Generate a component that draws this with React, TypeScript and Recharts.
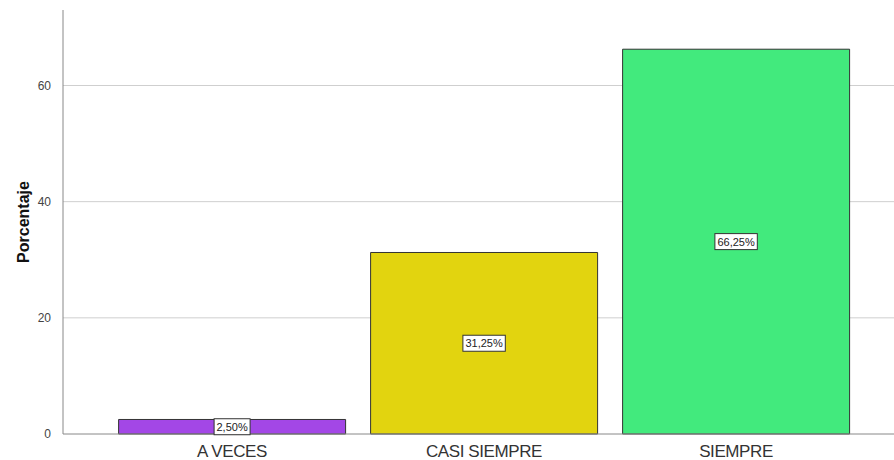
import { BarChart, Bar, XAxis, YAxis, CartesianGrid, Cell, LabelList } from 'recharts'

const categories = ['A VECES', 'CASI SIEMPRE', 'SIEMPRE']
const percentages = [2.5, 31.25, 66.25]
const barColors = ['#a347e6', '#e2d40f', '#42ea7d']
const yTicks = [0, 20, 40, 60]

const data = categories.map((name, i) => ({ name, value: percentages[i] }))

const FONT = 'Arial, "Liberation Sans", sans-serif'

function pct(v: number) {
  return `${v.toFixed(2).replace('.', ',')}%`
}

// white boxed value tag in the middle of each bar
function ValueTag(props: any) {
  const { x, y, width, height, value } = props
  const cx = x + width / 2
  const cy = y + height / 2
  const text = pct(Number(value))
  const w = text.length * 6.4 + 4
  const h = 16
  return (
    <g>
      <rect x={cx - w / 2} y={cy - h / 2} width={w} height={h} fill="#ffffff" stroke="#333333" strokeWidth={1} />
      <text x={cx} y={cy + 4} textAnchor="middle" fontSize={11} fontFamily={FONT} fill="#222">
        {text}
      </text>
    </g>
  )
}

function AxisTitle() {
  return (
    <text x={29} y={222} transform="rotate(-90, 29, 222)" textAnchor="middle" fontSize={16} fontWeight="bold" fontFamily={FONT} fill="#111">
      Porcentaje
    </text>
  )
}

export default function App() {
  return (
    <div style={{ position: 'absolute', left: 0, top: 0, background: '#fff' }}>
      <BarChart width={894} height={460} data={data} margin={{ top: 10, right: 0, bottom: 0, left: 0 }} barCategoryGap="5%">
        <CartesianGrid horizontal vertical={false} stroke="#cfcfcf" horizontalValues={[20, 40, 60]} />
        <XAxis
          dataKey="name"
          height={26}
          padding={{ left: 43, right: 32 }}
          axisLine={{ stroke: '#888' }}
          tickLine={false}
          tick={{ fontSize: 17, fill: '#333', fontFamily: FONT, letterSpacing: -0.4 }}
          tickMargin={5}
        />
        <YAxis
          width={63}
          domain={[0, 73]}
          ticks={yTicks}
          axisLine={{ stroke: '#888' }}
          tickLine={false}
          tickMargin={6}
          tick={{ fontSize: 12, fill: '#444', fontFamily: FONT }}
          label={<AxisTitle />}
        />
        <Bar dataKey="value" stroke="#333" strokeWidth={1} isAnimationActive={false}>
          {data.map((d, i) => (
            <Cell key={d.name} fill={barColors[i]} />
          ))}
          <LabelList dataKey="value" content={ValueTag} />
        </Bar>
      </BarChart>
    </div>
  )
}
